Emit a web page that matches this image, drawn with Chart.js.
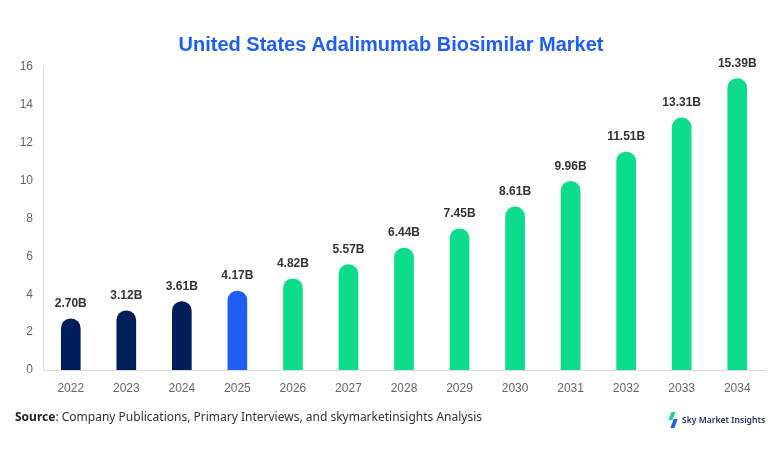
<!DOCTYPE html>
<html>
<head>
<meta charset="utf-8">
<script src="https://cdn.jsdelivr.net/npm/chart.js@4.4.1/dist/chart.umd.min.js"></script>
<style>
  html, body { margin: 0; padding: 0; background: #fff; }
  #wrap { position: relative; width: 782px; height: 454px; }
  #title { position: absolute; left: 0; width: 782px; top: 33px; text-align: center; font: bold 20px "Liberation Sans", Arial, sans-serif; color: #1f5ef5; }
  #source { position: absolute; left: 15px; top: 408px; font: 12px "Noto Sans", sans-serif; color: #333; }
  #source b { font-weight: 700; color: #222; }
  #logo { position: absolute; left: 668px; top: 412px; height: 16px; font: 600 8.6px "Noto Sans", sans-serif; color: #1b2a5a; display: flex; align-items: center; }
  #logo .icon { position: relative; width: 10px; height: 16px; margin-right: 4px; }
  #logo .g { position: absolute; left: 2px; top: 0; width: 4px; height: 8px; background: #10d98c; transform: skewX(-20deg); }
  #logo .b { position: absolute; left: 4px; top: 7px; width: 4px; height: 9px; background: #1f5ef5; transform: skewX(-20deg); }
</style>
</head>
<body>
<div id="wrap">
  <canvas id="marketChart" width="782" height="454"></canvas>
  <div id="title">United States Adalimumab Biosimilar Market</div>
  <div id="source"><b>Source</b>: Company Publications, Primary Interviews, and skymarketinsights Analysis</div>
  <div id="logo"><div class="icon"><div class="g"></div><div class="b"></div></div>Sky Market Insights</div>
</div>
<script>
const years = ['2022', '2023', '2024', '2025', '2026', '2027', '2028', '2029', '2030', '2031', '2032', '2033', '2034'];
const marketValues = [2.70, 3.12, 3.61, 4.17, 4.82, 5.57, 6.44, 7.45, 8.61, 9.96, 11.51, 13.31, 15.39];
const yTicks = [0, 2, 4, 6, 8, 10, 12, 14, 16];

const historicColor = '#001e5a';
const baseColor = '#1f5ef5';
const forecastColor = '#0edc8d';

const barColors = years.map(y => {
    if (y < '2025') return historicColor;
    if (y === '2025') return baseColor;
    return forecastColor;
});

// value labels above bars
const valueLabels = {
    id: 'valueLabels',
    afterDatasetsDraw(chart) {
        const ctx = chart.ctx;
        const meta = chart.getDatasetMeta(0);
        ctx.save();
        ctx.font = 'bold 12px "Liberation Sans", Arial, sans-serif';
        ctx.fillStyle = '#333';
        ctx.textAlign = 'center';
        ctx.textBaseline = 'middle';
        meta.data.forEach((bar, i) => {
            ctx.fillText(marketValues[i].toFixed(2) + 'B', bar.x, bar.y - 15);
        });
        ctx.restore();
    }
};

const ctx = document.getElementById('marketChart').getContext('2d');
new Chart(ctx, {
    type: 'bar',
    data: {
        labels: years,
        datasets: [{
            data: marketValues,
            backgroundColor: barColors,
            barThickness: 19,
            borderRadius: { topLeft: 10, topRight: 10 },
            borderSkipped: 'bottom'
        }]
    },
    options: {
        responsive: false,
        animation: false,
        layout: { padding: { top: 67, right: 17, bottom: 54, left: 0 } },
        plugins: {
            legend: { display: false },
            tooltip: { enabled: false },
            title: { display: false }
        },
        scales: {
            x: {
                grid: { display: false },
                border: { color: '#dddddd' },
                ticks: {
                    color: '#666',
                    font: { family: '"Liberation Sans", Arial, sans-serif', size: 12 },
                    padding: 3
                },
                afterFit(scale) { scale.height = 30; }
            },
            y: {
                min: 0,
                max: 16,
                afterBuildTicks(scale) { scale.ticks = yTicks.map(v => ({ value: v })); },
                grid: { display: false },
                border: { color: '#dddddd' },
                ticks: {
                    color: '#666',
                    font: { family: '"Liberation Sans", Arial, sans-serif', size: 12 },
                    padding: 2
                },
                afterFit(scale) { scale.width = 43; }
            }
        }
    },
    plugins: [valueLabels]
});
</script>
</body>
</html>
